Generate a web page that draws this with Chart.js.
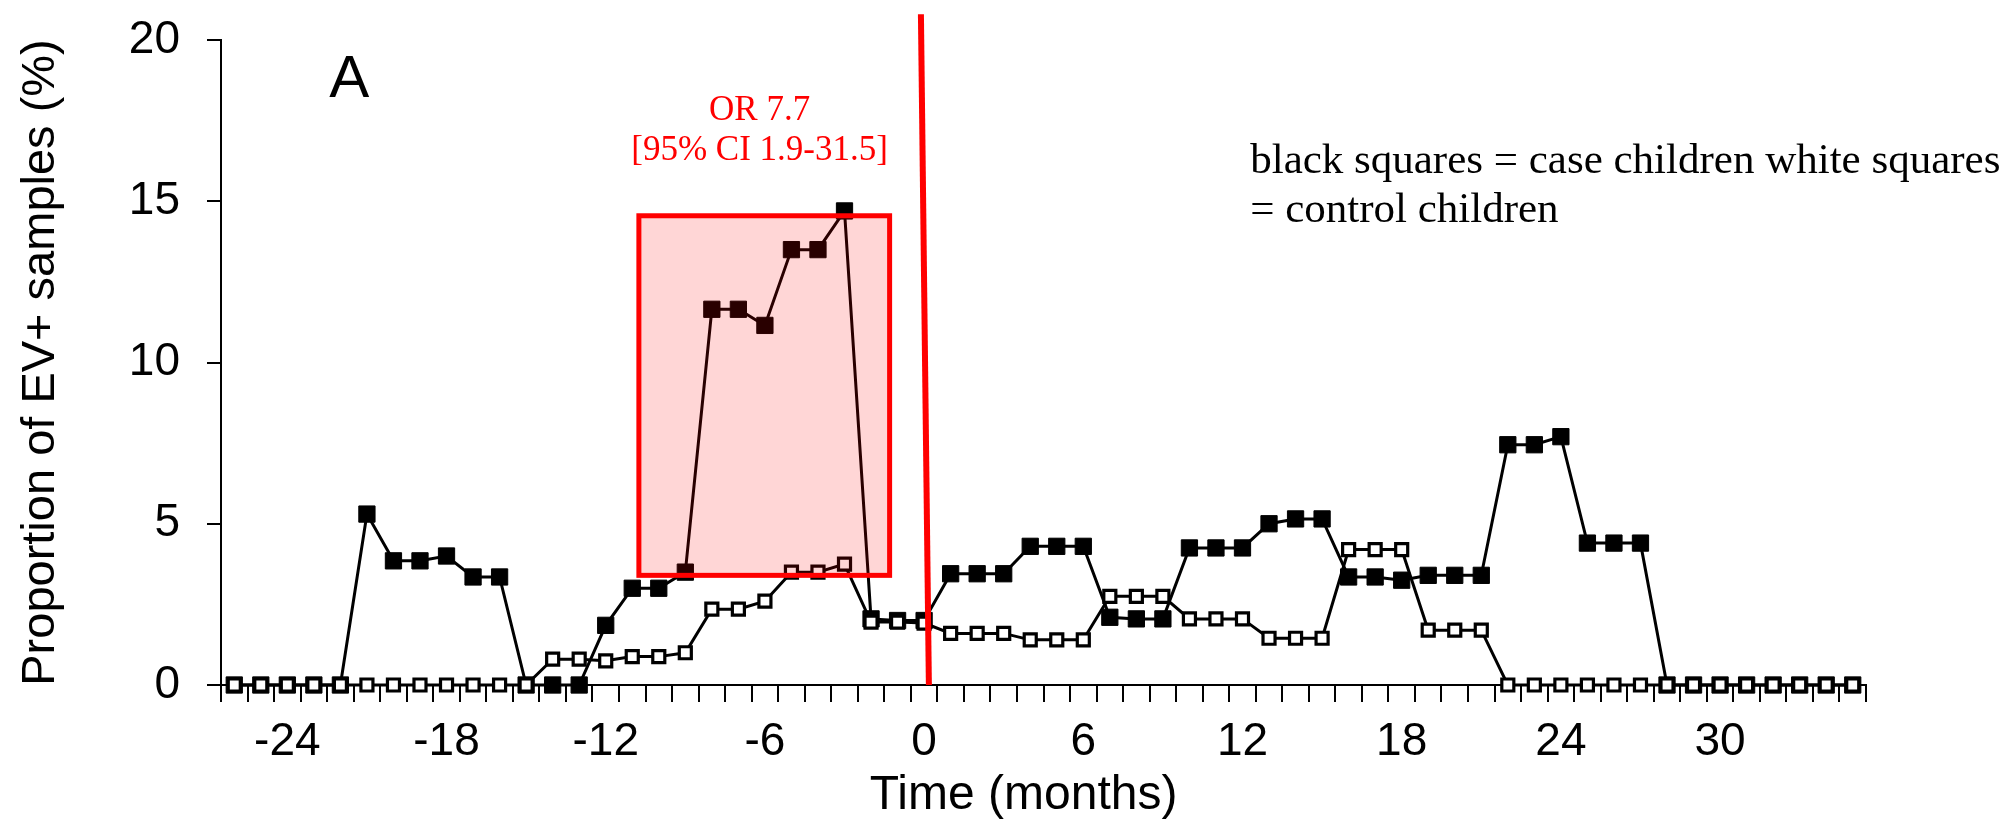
<!DOCTYPE html>
<html>
<head>
<meta charset="utf-8">
<title>EV+ samples</title>
<script src="https://cdn.jsdelivr.net/npm/chart.js@4"></script>
<style>
  html, body { margin: 0; padding: 0; background: #fff; }
  canvas { display: block; }
</style>
</head>
<body>
<canvas id="myChart" width="2000" height="820"></canvas>
<script>
var months = [-26, -25, -24, -23, -22, -21, -20, -19, -18, -17, -16, -15, -14, -13, -12, -11, -10, -9, -8, -7, -6, -5, -4, -3, -2, -1,
  0, 1, 2, 3, 4, 5, 6, 7, 8, 9, 10, 11, 12, 13, 14, 15, 16, 17, 18, 19, 20, 21, 22, 23, 24, 25, 26, 27, 28, 29, 30, 31, 32, 33, 34, 35];

// black squares
var caseValues = [0, 0, 0, 0, 0, 5.3, 3.85, 3.85, 4.0, 3.35, 3.35, 0, 0, 0, 1.85, 3.0, 3.0, 3.5, 11.65, 11.65, 11.15, 13.5, 13.5, 14.7, 2.05, 2.0,
  2.0, 3.45, 3.45, 3.45, 4.3, 4.3, 4.3, 2.1, 2.05, 2.05, 4.25, 4.25, 4.25, 5.0, 5.15, 5.15, 3.35, 3.35, 3.25, 3.4, 3.4, 3.4, 7.45, 7.45, 7.7, 4.4, 4.4, 4.4, 0, 0, 0, 0, 0, 0, 0, 0];

// white squares
var controlValues = [0, 0, 0, 0, 0, 0, 0, 0, 0, 0, 0, 0, 0.8, 0.8, 0.75, 0.88, 0.88, 1.0, 2.35, 2.35, 2.6, 3.5, 3.5, 3.75, 1.95, 1.95,
  1.92, 1.6, 1.6, 1.6, 1.4, 1.4, 1.4, 2.75, 2.75, 2.75, 2.05, 2.05, 2.05, 1.45, 1.45, 1.45, 4.2, 4.2, 4.2, 1.7, 1.7, 1.7, 0, 0, 0, 0, 0, 0, 0, 0, 0, 0, 0, 0, 0, 0];

var tickLabels = [-24, -18, -12, -6, 0, 6, 12, 18, 24, 30];
var yTicks = [0, 5, 10, 15, 20];

// annotation spots, in months / percent
var riskWindow = { from: -10.75, to: -1.3, low: 3.4, high: 14.55 };
var onsetLine = { topMonth: -0.12, topValue: 20.8, bottomMonth: 0.18, bottomValue: 0 };

var sans = '"Liberation Sans", Arial, sans-serif';
var serif = '"Liberation Serif", "Times New Roman", serif';

function xPix(chart, month) {
  return chart.scales.x.getPixelForValue(months.indexOf(0) + month);
}
function yPix(chart, value) {
  return chart.scales.y.getPixelForValue(value);
}

var annotations = {
  id: 'annotations',
  afterDatasetsDraw: function(chart) {
    var ctx = chart.ctx;
    ctx.save();

    // shaded window
    var x1 = xPix(chart, riskWindow.from), x2 = xPix(chart, riskWindow.to);
    var y1 = yPix(chart, riskWindow.high), y2 = yPix(chart, riskWindow.low);
    ctx.fillStyle = 'rgba(255, 0, 0, 0.16)';
    ctx.fillRect(x1, y1, x2 - x1, y2 - y1);
    ctx.strokeStyle = '#ff0000';
    ctx.lineWidth = 5;
    ctx.strokeRect(x1, y1, x2 - x1, y2 - y1);

    // onset line
    ctx.beginPath();
    ctx.lineWidth = 6;
    ctx.moveTo(xPix(chart, onsetLine.topMonth), yPix(chart, onsetLine.topValue));
    ctx.lineTo(xPix(chart, onsetLine.bottomMonth), yPix(chart, onsetLine.bottomValue));
    ctx.stroke();

    ctx.textBaseline = 'alphabetic';

    ctx.fillStyle = '#000';
    ctx.font = '60px ' + sans;
    ctx.textAlign = 'center';
    ctx.fillText('A', xPix(chart, -21.67), yPix(chart, 18.23));

    ctx.fillStyle = '#ff0000';
    ctx.font = '35px ' + serif;
    ctx.fillText('OR 7.7', xPix(chart, -6.2), yPix(chart, 17.52));
    ctx.fillText('[95% CI 1.9-31.5]', xPix(chart, -6.2), yPix(chart, 16.28));

    ctx.fillStyle = '#000';
    ctx.font = '43px ' + serif;
    ctx.textAlign = 'left';
    ctx.fillText('black squares = case children white squares', xPix(chart, 12.29), yPix(chart, 15.88));
    ctx.fillText('= control children', xPix(chart, 12.29), yPix(chart, 14.36));

    // x axis title, sits a bit left of the plot centre
    ctx.font = '48px ' + sans;
    ctx.textAlign = 'center';
    ctx.textBaseline = 'middle';
    ctx.fillText('Time (months)', xPix(chart, 3.75), chart.height - 24);

    ctx.restore();
  }
};

var ctx = document.getElementById('myChart').getContext('2d');
var myChart = new Chart(ctx, {
  type: 'line',
  data: {
    labels: months,
    datasets: [
      {
        label: 'case children',
        data: caseValues,
        order: 2,
        borderColor: '#000',
        borderWidth: 3,
        pointStyle: 'rect',
        pointRadius: 11.5,
        pointBackgroundColor: '#000',
        pointBorderColor: '#000',
        pointBorderWidth: 1,
        tension: 0,
        clip: false
      },
      {
        label: 'control children',
        data: controlValues,
        order: 1,
        borderColor: '#000',
        borderWidth: 3,
        pointStyle: 'rect',
        pointRadius: 8.5,
        pointBackgroundColor: '#fff',
        pointBorderColor: '#000',
        pointBorderWidth: 3.2,
        tension: 0,
        clip: false
      }
    ]
  },
  options: {
    responsive: false,
    animation: false,
    layout: { padding: { left: 0, right: 134, top: 40, bottom: 0 } },
    plugins: {
      legend: { display: false },
      tooltip: { enabled: false }
    },
    scales: {
      x: {
        type: 'category',
        offset: true,
        grid: { offset: true, drawOnChartArea: false, drawTicks: true, tickLength: 17, color: '#000', lineWidth: 2 },
        border: { display: true, color: '#000', width: 2 },
        ticks: {
          autoSkip: false,
          maxRotation: 0,
          color: '#000',
          padding: 13,
          font: { family: sans, size: 46 },
          callback: function(value, index) {
            var m = months[index];
            return tickLabels.indexOf(m) >= 0 ? String(m) : '';
          }
        },
        afterFit: function(scale) { scale.height = 135; }
      },
      y: {
        min: 0,
        max: 20,
        grid: { drawOnChartArea: false, drawTicks: true, tickLength: 14, color: '#000', lineWidth: 2 },
        border: { display: true, color: '#000', width: 2 },
        afterBuildTicks: function(scale) {
          scale.ticks = yTicks.map(function(v) { return { value: v }; });
        },
        ticks: {
          color: '#000',
          padding: 27,
          font: { family: sans, size: 46, lineHeight: 0.5 }
        },
        title: {
          display: true,
          text: 'Proportion of EV+ samples (%)',
          color: '#000',
          font: { family: sans, size: 47, lineHeight: 1 },
          padding: { top: 18, bottom: 0 }
        },
        afterFit: function(scale) { scale.width = 221; }
      }
    }
  },
  plugins: [annotations]
});
</script>
</body>
</html>
